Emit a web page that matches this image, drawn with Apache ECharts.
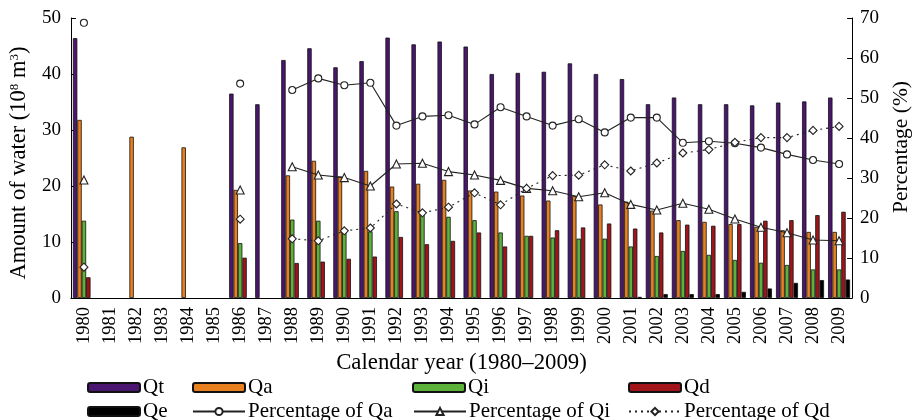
<!DOCTYPE html>
<html>
<head>
<meta charset="utf-8">
<script src="https://cdn.jsdelivr.net/npm/echarts@6/dist/echarts.min.js"></script>
<style>html,body{margin:0;padding:0;background:#fff}#c{width:920px;height:420px}</style>
</head>
<body>
<div id="c"></div>
<script>
const years = ['1980','1981','1982','1983','1984','1985','1986','1987','1988','1989','1990','1991','1992','1993','1994','1995','1996','1997','1998','1999','2000','2001','2002','2003','2004','2005','2006','2007','2008','2009'];
const Qt = [46.4,null,null,null,null,null,36.5,34.6,42.5,44.6,41.2,42.3,46.5,45.3,45.8,44.9,40.0,40.2,40.4,41.9,40.0,39.1,34.6,35.8,34.6,34.6,34.4,34.9,35.1,35.8];
const Qa = [31.8,null,28.8,null,26.9,null,19.3,null,21.9,24.5,21.7,22.7,19.9,20.4,21.1,19.2,19.0,18.3,17.4,18.2,16.7,17.2,15.6,13.9,13.6,13.2,12.7,12.1,11.8,11.8];
const Qi = [13.8,null,null,null,null,null,9.8,null,14.0,13.8,12.4,11.9,15.5,15.2,14.5,13.9,11.7,11.1,10.8,10.6,10.6,9.2,7.5,8.4,7.7,6.8,6.3,5.9,5.1,5.1];
const Qd = [3.7,null,null,null,null,null,7.2,null,6.25,6.5,7.0,7.4,10.9,9.6,10.2,11.7,9.2,11.1,12.1,12.6,13.3,12.4,11.7,13.1,12.9,13.2,13.8,13.9,14.8,15.4];
const Qe = [null,null,null,null,null,null,null,null,null,null,null,null,null,null,null,null,null,null,null,null,null,0.2,0.7,0.7,0.7,1.1,1.7,2.7,3.2,3.3];
const pctQa = [68.8,null,null,null,null,null,53.6,null,52.0,54.9,53.2,53.8,43.1,45.4,45.7,43.4,47.7,45.4,43.1,44.7,41.4,45.1,45.1,38.8,39.2,38.7,37.6,35.9,34.5,33.5];
const pctQi = [29.5,null,null,null,null,null,27.0,null,32.8,30.75,30.1,28.0,33.5,33.7,31.6,30.75,29.4,27.4,26.8,25.3,26.3,23.4,22.0,23.7,22.2,19.75,17.7,16.3,14.5,14.3];
const pctQd = [7.7,null,null,null,null,null,19.7,null,14.8,14.3,16.8,17.5,23.5,21.3,22.7,26.3,23.3,27.4,30.6,30.7,33.3,31.75,33.75,36.25,37.1,38.9,40.1,40.1,41.9,42.9];
const leftTicks = [0,10,20,30,40,50];
const rightTicks = [0,10,20,30,40,50,60,70];

const FONT = 'Liberation Serif';
const chart = echarts.init(document.getElementById('c'));

function bar(name, data, color) {
  return {name, type:'bar', data, barWidth:4.4, barGap:'0%', yAxisIndex:0,
    itemStyle:{color, borderColor:'#111', borderWidth:0.8}};
}
function line(name, data, symbol, size, type) {
  return {name, type:'line', data, yAxisIndex:1, symbol, symbolSize:size, showSymbol:true, showAllSymbol:true,
    connectNulls:false, z:5,
    lineStyle:{color:'#222', width:1.1, type:type||'solid'},
    itemStyle:{color:'#fff', borderColor:'#222', borderWidth:1.1}};
}
function leg(name, left, top) {
  return {data:[name], left, top, itemWidth:52, itemHeight:9, padding:0, itemGap:0,
    textStyle:{fontFamily:FONT, fontSize:21, color:'#000', padding:[0,0,0,-2]}};
}
const axisTxt = {fontFamily:FONT, color:'#000'};

chart.setOption({
  animation:false,
  textStyle:{fontFamily:FONT},
  grid:{left:68, right:58, top:18, bottom:122, containLabel:false},
  legend:[
    leg('Qt',87,377), leg('Qa',192,377), leg('Qi',412,377), leg('Qd',628,377),
    leg('Qe',87,401), leg('Percentage of Qa',192,401), leg('Percentage of Qi',413,401), leg('Percentage of Qd',628,401)
  ],
  xAxis:{type:'category', data:years, boundaryGap:true,
    axisLine:{lineStyle:{color:'#000', width:1}},
    axisTick:{inside:true, length:4, alignWithLabel:false, interval:0, lineStyle:{color:'#000'}},
    axisLabel:Object.assign({rotate:90, fontSize:18.5, margin:9, interval:0}, axisTxt),
    name:'Calendar year (1980\u20132009)', nameLocation:'middle', nameGap:49,
    nameTextStyle:Object.assign({fontSize:22.8}, axisTxt)
  },
  yAxis:[
    {type:'value', min:0, max:50, interval:10, position:'left',
      axisLine:{show:true, lineStyle:{color:'#000'}},
      axisTick:{show:true, inside:true, length:5, lineStyle:{color:'#000'}},
      splitLine:{show:false},
      axisLabel:Object.assign({fontSize:19, margin:10, formatter:v=>leftTicks.includes(v)?String(v):''}, axisTxt),
      name:'{a|Amount of water (10}{s|8}{a| m}{s|3}{a|)}', nameLocation:'middle', nameGap:33,
      nameTextStyle:{padding:[0,10,0,0], rich:{a:{fontFamily:FONT, fontSize:22.5, color:'#000'}, s:{fontFamily:FONT, fontSize:13, color:'#000', verticalAlign:'top', padding:[0,0,8,0]}}}
    },
    {type:'value', min:0, max:70, interval:10, position:'right',
      axisLine:{show:true, lineStyle:{color:'#000'}},
      axisTick:{show:true, inside:true, length:5, lineStyle:{color:'#000'}},
      splitLine:{show:false},
      axisLabel:Object.assign({fontSize:19, margin:8, formatter:v=>rightTicks.includes(v)?String(v):''}, axisTxt),
      name:'Percentage (%)', nameLocation:'middle', nameGap:33,
      nameTextStyle:Object.assign({fontSize:21.5, padding:[0,0,0,22]}, axisTxt)
    }
  ],
  series:[
    bar('Qt', Qt, '#4a1670'),
    bar('Qa', Qa, '#e8801f'),
    bar('Qi', Qi, '#5db33a'),
    bar('Qd', Qd, '#a0141a'),
    bar('Qe', Qe, '#000000'),
    line('Percentage of Qa', pctQa, 'circle', 7),
    line('Percentage of Qi', pctQi, 'triangle', 8),
    line('Percentage of Qd', pctQd, 'diamond', 8, [2,4])
  ]
});
</script>
</body>
</html>
